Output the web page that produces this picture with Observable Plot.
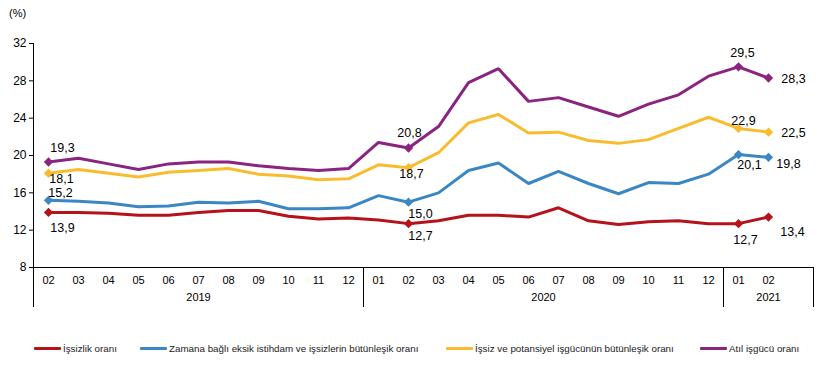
<!DOCTYPE html>
<html>
<head>
<meta charset="utf-8">
<script src="https://cdn.jsdelivr.net/npm/d3@7"></script>
<script src="https://cdn.jsdelivr.net/npm/@observablehq/plot@0.6"></script>
<style>
  html, body { margin: 0; padding: 0; background: #fff; }
  #wrap { position: relative; width: 836px; height: 376px; font-family: "Liberation Sans", Arial, sans-serif; }
  #unit { position: absolute; left: 9px; top: 7px; font-size: 11px; color: #000; }
  .leg { position: absolute; top: 343px; display: flex; align-items: center; font-size: 9.8px; color: #222; white-space: nowrap; }
  .leg span.sw { display: inline-block; width: 27px; height: 3px; margin-right: 2px; border-radius: 1px; }
</style>
</head>
<body>
<div id="wrap"><div id="unit">(%)</div></div>
<script>
// ---- data ----
const months = ["02","03","04","05","06","07","08","09","10","11","12","01","02","03","04","05","06","07","08","09","10","11","12","01","02"];
const years = ["2019", "2020", "2021"];
const yearCenters = [5, 16.5, 24];
const groupBounds = [-0.5, 10.5, 22.5, 25.5];
const yTicks = [8, 12, 16, 20, 24, 28, 32];

const seriesNames = ["İşsizlik oranı", "Zamana bağlı eksik istihdam ve işsizlerin bütünleşik oranı", "İşsiz ve potansiyel işgücünün bütünleşik oranı", "Atıl işgücü oranı"];
const isizlik = [13.9,13.9,13.8,13.6,13.6,13.9,14.1,14.1,13.5,13.2,13.3,13.1,12.7,13.0,13.6,13.6,13.4,14.4,13.0,12.6,12.9,13.0,12.7,12.7,13.4];
const zamana  = [15.2,15.1,14.9,14.5,14.6,15.0,14.9,15.1,14.3,14.3,14.4,15.7,15.0,16.0,18.4,19.2,17.0,18.3,17.0,15.9,17.1,17.0,18.0,20.1,19.8];
const potans  = [18.1,18.5,18.1,17.7,18.2,18.4,18.6,18.0,17.8,17.4,17.5,19.0,18.7,20.3,23.5,24.4,22.4,22.5,21.6,21.3,21.7,22.9,24.1,22.9,22.5];
const atil    = [19.3,19.7,19.1,18.5,19.1,19.3,19.3,18.9,18.6,18.4,18.6,21.4,20.8,23.1,27.8,29.3,25.8,26.2,25.2,24.2,25.5,26.5,28.5,29.5,28.3];
const markedIdx = [0, 12, 23, 24];

// ---- styling ----
const colors = ["#B5121B", "#3A87C4", "#F9BC2E", "#8B2381"];
const labelOffsets = [
  [[14,16],[12,12],[7,16],[24,15]],   // işsizlik
  [[12,-7],[12,12],[11,10],[20,7]],   // zamana
  [[13,6],[3,6],[5,-7],[25,1]],       // potansiyel
  [[14,-14],[1,-15],[4,-14],[25,1]]   // atıl
];

const allSeries = [isizlik, zamana, potans, atil];
const lineData = [];
allSeries.forEach((arr, s) => arr.forEach((v, i) => lineData.push({s: seriesNames[s], i, v})));
const markData = [];
allSeries.forEach((arr, s) => markedIdx.forEach((i, k) => markData.push({
  s: seriesNames[s], i, v: arr[i], dx: labelOffsets[s][k][0], dy: labelOffsets[s][k][1]
})));
const fmt = v => v.toFixed(1).replace(".", ",");

const chart = Plot.plot({
  width: 836,
  height: 330,
  marginLeft: 33,
  marginRight: 23,
  marginTop: 43,
  marginBottom: 63,
  style: {fontFamily: '"Liberation Sans", Arial, sans-serif', color: "#000", background: "#fff"},
  x: {type: "linear", domain: [-0.5, 25.5]},
  y: {domain: [8, 32]},
  color: {domain: seriesNames, range: colors},
  marks: [
    Plot.axisY({ticks: yTicks, tickSize: 4, tickPadding: 3, fontSize: 12, label: null, stroke: "#000"}),
    Plot.axisX({ticks: d3.range(months.length), tickFormat: i => months[i], tickSize: 0, tickPadding: 9, fontSize: 11, label: null}),
    Plot.axisX({ticks: yearCenters, tickFormat: (d, k) => years[k], tickSize: 0, tickPadding: 26, fontSize: 11, label: null}),
    Plot.axisX({ticks: groupBounds, tickFormat: () => "", tickSize: 40, tickPadding: 0, label: null, stroke: "#000"}),
    Plot.ruleX([-0.5], {stroke: "#000"}),
    Plot.ruleY([8], {stroke: "#000"}),
    Plot.line(lineData, {x: "i", y: "v", z: "s", stroke: "s", strokeWidth: 3, strokeLinejoin: "miter"}),
    Plot.dot(markData, {x: "i", y: "v", fill: "s", symbol: "diamond2", r: 4.2, stroke: null}),
    ...markData.map(d => Plot.text([d], {x: "i", y: "v", text: e => fmt(e.v), dx: d.dx, dy: d.dy, fontSize: 12.5, fill: "#000", textAnchor: "middle", lineAnchor: "middle"}))
  ]
});
const wrap = document.getElementById("wrap");
wrap.insertBefore(chart, wrap.firstChild);
chart.style.position = "absolute";
chart.style.left = "0px";
chart.style.top = "0px";

const legLefts = [34, 140, 446, 700];
seriesNames.forEach((n, k) => {
  const div = document.createElement("div");
  div.className = "leg";
  div.style.left = legLefts[k] + "px";
  div.innerHTML = `<span class="sw" style="background:${colors[k]}"></span><span>${n}</span>`;
  wrap.appendChild(div);
});
</script>
</body>
</html>
